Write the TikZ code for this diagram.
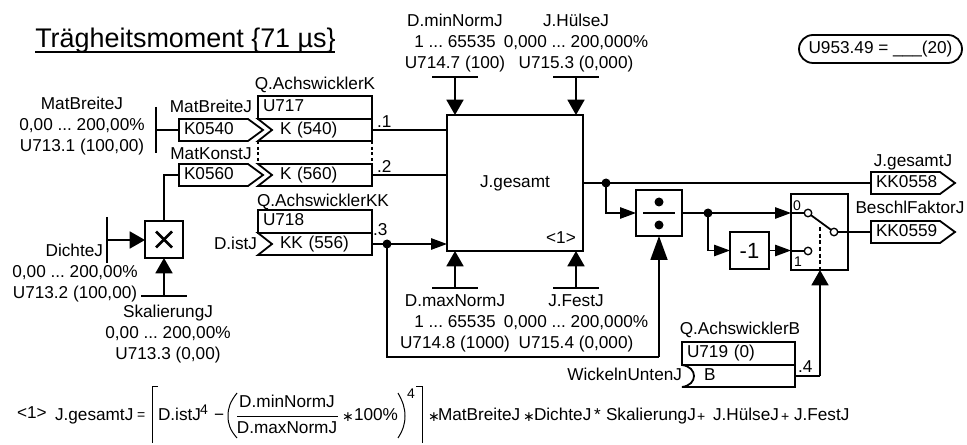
\documentclass[tikz,border=0pt]{standalone}
\usepackage{fontspec}
\setmainfont{Liberation Sans}
\newfontfamily\symf{DejaVu Sans}
\frenchspacing
\usetikzlibrary{arrows.meta,calc}
\newdimen\px \px=0.75pt
\newcommand\fs{\fontsize{12.9}{15.75}\selectfont}
\newcommand\fsmall{\fontsize{10.5}{12}\selectfont}
\newcommand\fop{\fontsize{10.5}{12}\selectfont}
\newcommand\pentaoutline[1]{\draw[ln] (#1.north west) -- (#1.north east) -- ($(#1.east)+(15,0)$) -- (#1.south east) -- (#1.south west) -- cycle;}
\newcommand\notchoutline[1]{\draw[ln] (#1.north west) -- (#1.north east) -- (#1.south east) -- (#1.south west) -- ($(#1.west)+(14,0)$) -- cycle;}
\tikzset{
  ln/.style={line width=1.35pt},
  thin line/.style={line width=0.75pt},
  lab/.style={inner sep=0,outer sep=0,font=\fs,align=center,text=black},
  one/.style={lab,text height=9.2pt,text depth=2.6pt},
  fbox/.style={draw,line width=1.35pt,inner sep=0,outer sep=0,anchor=north west,font=\fs},
  tagn/.style={inner sep=0,outer sep=0,anchor=north west,font=\fs,align=left,minimum height=22\px,text height=9.2pt,text depth=2.6pt},
  ah/.style={ln,-{Triangle[length=12pt,width=8.5pt]}},
  av/.style={ln,-{Triangle[length=11.5pt,width=12.75pt]}},
  avl/.style={ln,-{Triangle[length=18pt,width=12.75pt]}},
  dot/.style={circle,fill=black,inner sep=0,outer sep=0,minimum size=9\px},
  contact/.style={circle,draw,fill=white,line width=1pt,inner sep=0,outer sep=0,minimum size=7.5\px},
  spaced dots/.style={line width=1.35pt,dash pattern=on 2.2pt off 2pt},
}
\begin{document}
\begin{tikzpicture}[x=0.75pt,y=-0.75pt]
\useasboundingbox (0,0) rectangle (967,445);

% title and parameter tag
\node[inner sep=0,anchor=base west,font=\fontsize{20.2}{22}\selectfont] (title) at (35,48) {Trägheitsmoment \{71 µs\}};
\coordinate (ula) at (35,52);
\coordinate (ulb) at (335,52);
\draw[line width=0.9pt] (ula) -- (ulb);
\node[draw,ln,rounded corners=10.5pt,inner sep=0,minimum width=163\px,minimum height=28\px,font=\fs] (uparam) at (880.5,49) {U953.49 = \_\_\_(20)};

% central block
\node[fbox,minimum width=136\px,minimum height=136\px] (jg) at (447,115) {};
\node[one] (jgt) at (515,183) {J.gesamt};
\node[one] (jgn) at (561,239) {<1>};

% top parameters
\node[lab] (pmin) at (455,43) {D.minNormJ\\1 ... 65535\\U714.7 (100)};
\node[lab] (phu) at (576,43) {J.HülseJ\\0,000 ... 200,000\%\\U715.3 (0,000)};
\coordinate (tmin) at (455,77); \coordinate (thu) at (576,77);
\draw[ln] ($(tmin)+(-23,0)$) -- ($(tmin)+(23,0)$);
\draw[ln] ($(thu)+(-23,0)$) -- ($(thu)+(23,0)$);
\draw[av] (tmin) -- (tmin |- jg.north);
\draw[av] (thu) -- (thu |- jg.north);

% bottom parameters
\node[lab] (pmax) at (455,323) {D.maxNormJ\\1 ... 65535\\U714.8 (1000)};
\node[lab] (pfe) at (576,323) {J.FestJ\\0,000 ... 200,000\%\\U715.4 (0,000)};
\coordinate (bmax) at (455,288); \coordinate (bfe) at (576,288);
\draw[ln] ($(bmax)+(-23,0)$) -- ($(bmax)+(23,0)$);
\draw[ln] ($(bfe)+(-23,0)$) -- ($(bfe)+(23,0)$);
\draw[av] (bmax) -- (bmax |- jg.south);
\draw[av] (bfe) -- (bfe |- jg.south);

% left parameters
\node[lab] (pbr) at (82,126) {MatBreiteJ\\0,00 ... 200,00\%\\U713.1 (100,00)};
\coordinate (tbr) at (156,130);
\draw[ln] (156,107) -- (156,153);
\node[one] (lbr) at (211,108) {MatBreiteJ};
\node[one] (lko) at (211,155) {MatKonstJ};
\node[tagn,text width=69\px] (k540) at (179,119) {\hspace*{5\px}K0540};
\node[tagn,text width=69\px] (k560) at (179,164) {\hspace*{5\px}K0560};
\pentaoutline{k540}
\pentaoutline{k560}
\draw[ln] (tbr) -- (k540.west);

% connector boxes
\node[one] (qk) at (315,85) {Q.AchswicklerK};
\node[fbox,minimum width=114\px,minimum height=23\px,text width=114\px,align=left,text height=9.2pt,text depth=2.6pt] (u717) at (258,96) {\hspace*{5\px}U717};
\node[tagn,text width=114\px] (ka) at (258,119) {\hspace*{22\px}K (540)};
\notchoutline{ka}
\node[tagn,text width=114\px] (kb) at (258,164) {\hspace*{22\px}K (560)};
\notchoutline{kb}
\draw[spaced dots] (ka.south west) -- (kb.north west);
\draw[spaced dots] (ka.south east) -- (kb.north east);
\node[one] (qkk) at (323,202) {Q.AchswicklerKK};
\node[fbox,minimum width=114\px,minimum height=23\px,text width=114\px,align=left,text height=9.2pt,text depth=2.6pt] (u718) at (258,210) {\hspace*{5\px}U718};
\node[tagn,text width=114\px] (kc) at (258,233) {\hspace*{22\px}KK (556)};
\notchoutline{kc}
\node[one,anchor=east] (dist) at (257,245) {D.istJ};
\node[one,anchor=west] (n1) at (377,123) {.1};
\node[one,anchor=west] (n2) at (377,168) {.2};
\node[one,anchor=west] (n3) at (373,231) {.3};
\draw[ln] (ka.east) -- (ka.east -| jg.west);
\draw[ln] (kb.east) -- (kb.east -| jg.west);
\node[dot] (d3) at (387,244) {};
\draw[ah] (kc.east) -- (kc.east -| jg.west);

% multiplier
\node[fbox,minimum width=38\px,minimum height=37\px] (mul) at (145,221) {};
\draw[line width=1.9pt] ($(mul.center)+(-8,-8)$) -- ($(mul.center)+(8,8)$);
\draw[line width=1.9pt] ($(mul.center)+(-8,8)$) -- ($(mul.center)+(8,-8)$);
\draw[ln] (mul.north) -- (mul.north |- k560.west) -- (k560.west);
\node[one,anchor=east] (ldi) at (103,252) {DichteJ};
\node[lab] (pdi) at (75,283.5) {0,00 ... 200,00\%\\U713.2 (100,00)};
\coordinate (tdi) at (107,240);
\draw[ln] (107,217) -- (107,263);
\draw[av] (tdi) -- (tdi -| mul.west);
\coordinate (tsk) at (164,296);
\draw[ln] ($(tsk)+(-23,0)$) -- ($(tsk)+(23,0)$);
\draw[av] (tsk) -- (mul.south);
\node[lab] (psk) at (168,334) {SkalierungJ\\0,00 ... 200,00\%\\U713.3 (0,00)};

% output
\node[tagn,text width=69\px] (kk558) at (871,172) {\hspace*{5\px}KK0558};
\pentaoutline{kk558}
\node[one] (lj) at (913,162) {J.gesamtJ};
\node[tagn,text width=69\px] (kk559) at (871,221) {\hspace*{5\px}KK0559};
\pentaoutline{kk559}
\node[one] (lb) at (910,209) {BeschlFaktorJ};
\draw[ln] (jg.east) -- (kk558.west);
\node[dot] (d1) at (606,183) {};

% divider
\node[fbox,minimum width=46\px,minimum height=46\px] (dv) at (636,190) {};
\node[dot] (dv1) at (659,202) {};
\node[dot] (dv2) at (659,225) {};
\draw[ln] ($(dv.center)+(-16,0)$) -- ($(dv.center)+(16,0)$);
\draw[ah] (d1) |- (dv.west);
\draw[ln] (d3) -- (387,357) -- (659,357) coordinate (c3);
\draw[avl] (c3) -- (dv.south);

% -1
\node[fbox,minimum width=39\px,minimum height=37\px,font=\fontsize{16.5}{18}\selectfont] (neg) at (730,232) {-1};
\node[dot] (d2) at (708,213) {};

% switch
\node[fbox,minimum width=57\px,minimum height=76\px] (sw) at (791,194) {};
\node[one,anchor=west,font=\fsmall,text height=7.6pt,text depth=0pt] (s0) at (793,205) {0};
\node[one,anchor=west,font=\fsmall,text height=7.6pt,text depth=0pt] (s1) at (794,261) {1};
\draw[ah] (dv.east) -- (sw.west |- dv.east);
\draw[ah] (d2) |- (neg.west);
\draw[ah] (neg.east) -- (sw.west |- neg.east);
\coordinate (ca0) at (808,213); \coordinate (cb0) at (808,251); \coordinate (cc0) at (834,232);
\draw[ln] (sw.west |- ca0) -- (ca0);
\draw[ln] (sw.west |- cb0) -- (cb0);
\draw[ln] (ca0) -- (cc0);
\draw[ln] (cc0) -- (kk559.west);
\node[contact] (ca) at (ca0) {};
\node[contact] (cb) at (cb0) {};
\node[contact] (cc) at (cc0) {};
\coordinate (swd) at (820,227);
\draw[ln,densely dashed] (swd) -- (swd |- sw.south);

% Q.AchswicklerB
\node[one] (qb) at (740,330) {Q.AchswicklerB};
\node[fbox,minimum width=113\px,minimum height=23\px,text width=113\px,align=left,text height=9.2pt,text depth=2.6pt] (u719) at (682,342) {\hspace*{5\px}U719 (0)};
\node[tagn,text width=113\px] (bb) at (682,365) {\hspace*{22\px}B};
\draw[ln] (bb.north west) -- (bb.north east) -- (bb.south east) -- (bb.south west) .. controls (690,386) and (694,381) .. (694,376) .. controls (694,371) and (690,366) .. (bb.north west);
\node[one,anchor=east] (lw) at (682,376) {WickelnUntenJ};
\node[one,anchor=west] (n4) at (798,368) {.4};
\draw[ln] (bb.east) -- (swd |- bb.east) coordinate (c4);
\draw[av] (c4) -- (swd |- sw.south);

% formula
\node[one,anchor=west] (f0) at (17,414) {<1>};
\node[one,anchor=west] (f1) at (55,416) {J.gesamtJ};
\node[lab,anchor=west,font=\fop] (f2) at (137,416) {=};
\node[one,anchor=west] (f3) at (158,416) {D.istJ};
\node[lab,anchor=west,font=\fop] (f4) at (200,410) {4};
\node[one,anchor=west] (f5) at (214,416) {−};
\node[one] (f6) at (287,403) {D.minNormJ};
\node[one] (f7) at (287,429) {D.maxNormJ};
\node[lab,anchor=west,font=\fop] (f8) at (342,417) {\symf ∗};
\node[one,anchor=west] (f9) at (354,416) {100\%};
\node[lab,anchor=west,font=\fop] (f10) at (407,394) {4};
\node[lab,anchor=west,font=\fop] (f11) at (428,417) {\symf ∗};
\node[one,anchor=west] (f12) at (438,416) {MatBreiteJ};
\node[lab,anchor=west,font=\fop] (f13) at (523,417) {\symf ∗};
\node[one,anchor=west] (f14) at (534,416) {DichteJ};
\node[one,anchor=west] (f15) at (594,416) {*};
\node[one,anchor=west] (f16) at (606,416) {SkalierungJ};
\node[lab,anchor=west,font=\fop] (f17) at (697,417) {+};
\node[one,anchor=west] (f18) at (713,416) {J.HülseJ};
\node[lab,anchor=west,font=\fop] (f19) at (781,417) {+};
\node[one,anchor=west] (f20) at (794,416) {J.FestJ};
\draw[thin line] (237,416) -- (338,416);
\draw[thin line] (158,386) -- (152,386) -- (152,443);
\draw[thin line] (416,386) -- (422,386) -- (422,443);
\draw[thin line] (237,393) .. controls (230,402) and (228,408) .. (228,416) .. controls (228,424) and (230,430) .. (237,438);
\draw[thin line] (398,393) .. controls (403,402) and (405,408) .. (405,416) .. controls (405,424) and (403,430) .. (398,438);
\end{tikzpicture}
\end{document}
